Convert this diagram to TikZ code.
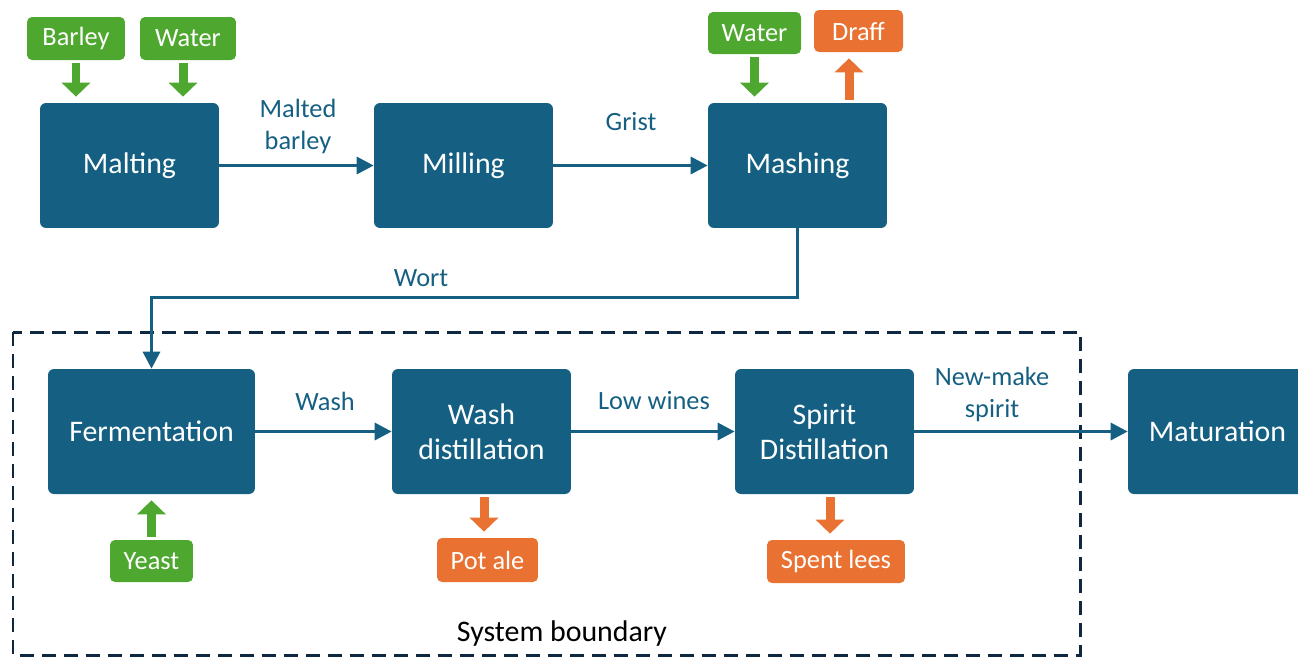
\documentclass[tikz,border=0pt]{standalone}
\usepackage{fontspec}
\setmainfont{Carlito}
\usetikzlibrary{arrows.meta}

\definecolor{procblue}{HTML}{156082}
\definecolor{ingreen}{HTML}{4EA72E}
\definecolor{outorange}{HTML}{E97132}
\definecolor{bounddark}{HTML}{0E2841}

\tikzset{
    process/.style={fill=procblue, text=white, rounded corners=0.12cm, minimum width=3.58cm, minimum height=2.5cm, align=center, font=\fontsize{17}{20}\selectfont},
    inbox/.style={fill=ingreen, text=white, rounded corners=0.1cm, minimum height=0.86cm, inner sep=0pt, font=\fontsize{15}{18}\selectfont},
    outbox/.style={inbox, fill=outorange},
    flow/.style={color=procblue, line width=0.065cm, -{Triangle[length=0.34cm,width=0.34cm]}},
    blockin/.style={color=ingreen, line width=0.18cm, shorten <=0.06cm, shorten >=0.12cm, -{Triangle[length=0.28cm,width=0.56cm]}},
    blockout/.style={blockin, color=outorange},
    lbl/.style={text=procblue, align=center, font=\fontsize{15}{18.5}\selectfont}
}

\begin{document}
\begin{tikzpicture}[x=0.02cm, y=-0.02cm]

    \useasboundingbox (0, 0) rectangle (1298, 657);

    % system boundary
    \draw[bounddark, line width=0.06cm, dash pattern=on 0.28cm off 0.16cm] (13, 332) rectangle (1080, 655);
    \node[font=\fontsize{17}{20}\selectfont] (sysb) at (562, 634) {System boundary};

    % process steps
    \node[process] (malting) at (129.5, 165.5) {Malting};
    \node[process] (milling) at (463.5, 165.5) {Milling};
    \node[process] (mashing) at (797.5, 165.5) {Mashing};
    \node[process, minimum width=4.14cm] (ferm) at (151.5, 431.5) {Fermentation};
    \node[process] (washd) at (481.5, 431.5) {Wash\\distillation};
    \node[process] (spiritd) at (824.5, 431.5) {Spirit\\Distillation};
    \node[process] (matur) at (1217.5, 431.5) {Maturation};

    % inputs and outputs
    \node[inbox, minimum width=1.96cm] (barley) at (76, 38.5) {Barley};
    \node[inbox, minimum width=1.92cm] (water1) at (188, 38.5) {Water};
    \node[inbox, minimum width=1.86cm, minimum height=0.84cm] (water2) at (754.5, 33) {Water};
    \node[outbox, minimum width=1.78cm, minimum height=0.84cm] (draff) at (858.5, 31) {Draff};
    \node[inbox, minimum width=1.66cm, minimum height=0.84cm] (yeast) at (151.5, 561) {Yeast};
    \node[outbox, minimum width=2.02cm, minimum height=0.88cm] (potale) at (487.5, 560) {Pot ale};
    \node[outbox, minimum width=2.76cm] (spent) at (836, 561.5) {Spent lees};

    \draw[blockin] (barley.south) -- (barley.south |- malting.north);
    \draw[blockin] ([xshift=-0.1cm]water1.south) -- ([xshift=-0.1cm]water1.south |- malting.north);
    \draw[blockin] (water2.south) -- (water2.south |- mashing.north);
    \draw[blockout] ([xshift=-0.19cm]draff.south |- mashing.north) -- ([xshift=-0.19cm]draff.south);
    \draw[blockin] (yeast.north) -- (yeast.north |- ferm.south);
    \draw[blockout] ([xshift=-0.07cm]potale.north |- washd.south) -- ([xshift=-0.07cm]potale.north);
    \draw[blockout] ([xshift=-0.12cm]spent.north |- spiritd.south) -- ([xshift=-0.12cm]spent.north);

    % main flow
    \draw[flow] (malting) -- (milling);
    \draw[flow] (milling) -- (mashing);
    \draw[flow] (mashing.south) -- ++(0, 69) -| (ferm.north);
    \draw[flow] (ferm) -- (washd);
    \draw[flow] (washd) -- (spiritd);
    \draw[flow] (spiritd) -- (matur);

    \node[lbl] (lmalt) at (298, 126.5) {Malted\\barley};
    \node[lbl] (lgrist) at (631, 122) {Grist};
    \node[lbl] (lwort) at (421, 278) {Wort};
    \node[lbl] (lwash) at (325, 401) {Wash};
    \node[lbl] (llow) at (654, 401) {Low wines};
    \node[lbl] (lnew) at (992, 394.5) {New-make\\spirit};

\end{tikzpicture}
\end{document}
